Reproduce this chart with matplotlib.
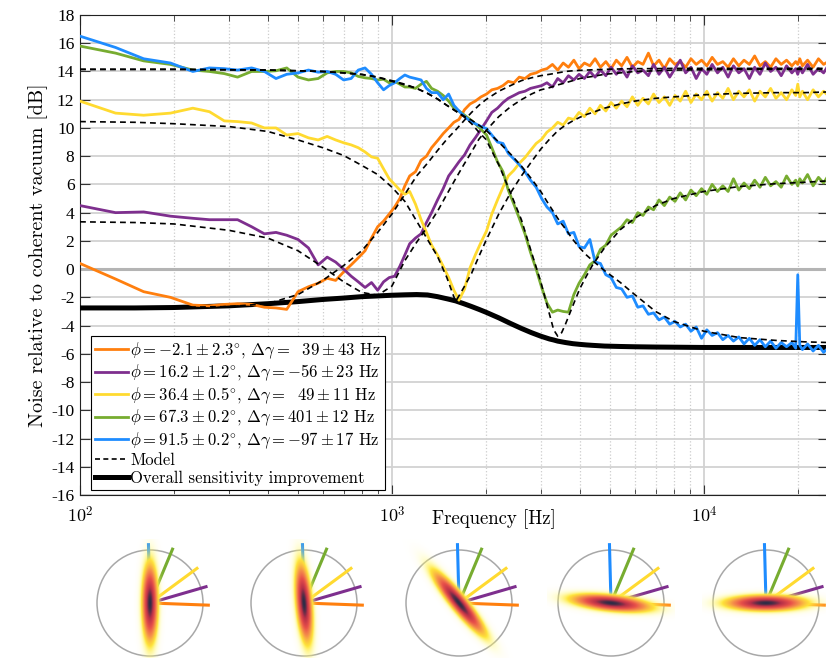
import matplotlib.pyplot as plt
import numpy as np
from matplotlib.colors import LinearSegmentedColormap
from matplotlib.lines import Line2D
from matplotlib.patches import Circle
from matplotlib.ticker import FixedLocator, FixedFormatter, NullFormatter, LogLocator

plt.rcParams['font.family'] = ['cmr10', 'DejaVu Serif']
plt.rcParams['mathtext.fontset'] = 'cm'
plt.rcParams['axes.formatter.use_mathtext'] = True
plt.rcParams['axes.unicode_minus'] = False

# measured spectra (decimated), frequency in Hz, noise in dB
freq = [100, 130, 160, 195, 230, 260, 290, 320, 355, 390,
        425, 460, 500, 540, 580, 620, 660, 700, 740, 780,
        820, 860, 900, 940, 980, 1020, 1060, 1100, 1140, 1190,
        1240, 1290, 1340, 1400, 1460, 1520, 1580, 1640, 1710, 1780,
        1850, 1930, 2010, 2090, 2180, 2270, 2360, 2460, 2560, 2670,
        2780, 2900, 3020, 3140, 3270, 3400, 3540, 3680, 3830, 3980,
        4140, 4310, 4480, 4660, 4850, 5040, 5240, 5450, 5670, 5900,
        6140, 6380, 6640, 6900, 7180, 7470, 7770, 8080, 8400, 8740,
        9090, 9450, 9830, 10220, 10630, 11060, 11500, 11960, 12440, 12940,
        13450, 13990, 14550, 15130, 15740, 16370, 17020, 17700, 18410, 19150,
        19700, 20000, 20300, 20700, 21500, 22400, 23300, 24200, 25000]

orange_db = [0.4, -0.7, -1.6, -2.0, -2.55, -2.6, -2.5, -2.45, -2.5, -2.7,
             -2.75, -2.85, -1.6, -1.25, -1.0, -0.65, -0.8, -0.2, 0.3, 0.8,
             1.3, 2.2, 3.0, 3.4, 3.9, 4.4, 5.0, 5.9, 6.6, 6.9,
             7.7, 8.0, 8.6, 9.1, 9.6, 10.0, 10.4, 10.6, 11.3, 11.7,
             11.9, 12.2, 12.4, 12.7, 12.8, 13.0, 13.3, 13.2, 13.6, 13.5,
             13.8, 13.9, 14.1, 14.2, 14.5, 14.1, 14.6, 14.3, 14.8, 14.2,
             14.6, 14.4, 14.9, 14.3, 14.7, 14.2, 14.8, 14.4, 15.0, 14.3,
             14.7, 14.5, 15.3, 14.4, 14.8, 14.2, 14.9, 14.5, 14.7, 14.3,
             14.9, 14.5, 14.8, 14.4, 15.0, 14.5, 14.7, 14.3, 14.9, 14.4,
             14.8, 14.5, 15.1, 14.4, 14.7, 14.3, 14.9, 14.5, 14.8, 14.4,
             14.7, 14.5, 14.9, 14.4, 14.8, 14.3, 14.9, 14.5, 14.7]

purple_db = [4.5, 4.0, 4.05, 3.75, 3.6, 3.5, 3.5, 3.5, 3.0, 2.5,
             2.6, 2.4, 2.1, 1.5, 0.3, 0.85, 0.5, 0.0, -0.5, -0.9,
             -1.3, -0.95, -1.5, -0.9, -0.6, -0.5, 0.2, 1.0, 1.8, 2.2,
             2.5, 3.3, 4.0, 4.9, 5.7, 6.6, 7.1, 7.6, 8.1, 8.8,
             9.3, 9.9, 10.5, 11.1, 11.4, 11.8, 12.1, 12.3, 12.5, 12.6,
             12.8, 12.9, 13.0, 13.2, 12.9, 13.5, 13.2, 13.7, 13.4, 13.8,
             13.5, 14.0, 13.6, 14.1, 13.7, 14.3, 13.8, 14.2, 13.6, 14.4,
             13.9, 14.1, 13.7, 14.5, 13.8, 14.3, 13.6, 14.2, 14.8, 13.9,
             14.3, 13.5, 14.2, 13.8, 14.5, 13.9, 14.3, 13.6, 14.4, 13.9,
             14.2, 13.5, 14.3, 13.8, 14.6, 14.0, 14.3, 13.7, 14.4, 13.9,
             14.2, 13.8, 14.3, 13.9, 14.5, 13.8, 14.2, 13.9, 14.4]

yellow_db = [11.9, 11.05, 10.9, 11.05, 11.4, 11.15, 10.5, 10.45, 10.35, 10.0,
             10.0, 9.5, 9.6, 9.3, 9.15, 9.4, 9.15, 8.95, 8.8, 8.6,
             8.3, 7.95, 7.85, 7.1, 6.4, 6.0, 5.6, 5.3, 5.5, 4.6,
             3.5, 2.6, 1.7, 1.0, 0.2, -0.6, -1.5, -2.2, -1.4, 0.1,
             1.0, 1.9, 2.7, 3.9, 4.9, 5.8, 6.6, 7.0, 7.5, 7.9,
             8.4, 8.9, 9.2, 9.7, 10.0, 10.4, 10.2, 10.7, 10.6, 11.1,
             10.8, 11.4, 11.0, 11.6, 11.2, 11.8, 11.4, 11.9, 11.5, 12.2,
             11.6, 12.1, 11.7, 12.4, 11.8, 12.2, 11.6, 12.3, 11.9, 12.6,
             11.8, 12.4, 12.0, 12.6, 11.9, 12.5, 12.1, 12.8, 12.0, 12.6,
             12.2, 12.7, 11.9, 12.6, 12.2, 12.8, 12.1, 12.5, 12.0, 12.7,
             12.3, 13.1, 12.2, 12.6, 12.0, 12.7, 12.2, 12.6, 12.3]

green_db = [15.8, 15.3, 14.75, 14.5, 14.1, 14.0, 13.85, 13.6, 14.0, 14.0,
            14.05, 14.25, 13.6, 13.4, 13.5, 13.9, 14.0, 14.0, 13.9, 13.65,
            13.55, 13.5, 13.4, 13.45, 13.2, 13.3, 13.1, 12.9, 12.9, 12.8,
            13.1, 13.3, 12.8, 12.6, 12.3, 11.9, 11.4, 11.2, 10.9, 10.6,
            10.3, 9.9, 9.5, 8.6, 7.6, 6.9, 5.6, 4.6, 3.6, 2.5,
            1.2, 0.0, -1.3, -2.4, -3.05, -2.9, -3.0, -3.05, -1.8, -1.0,
            -0.4, 0.3, 0.6, 1.4, 1.7, 2.4, 2.7, 3.0, 3.5, 3.3,
            4.0, 3.8, 4.4, 4.2, 4.9, 4.5, 5.1, 4.8, 5.4, 4.9,
            5.6, 5.2, 5.7, 5.3, 6.0, 5.5, 5.9, 5.5, 6.4, 5.6,
            6.1, 5.7, 6.3, 5.8, 6.5, 5.9, 6.2, 5.8, 6.6, 6.0,
            6.3, 5.9, 6.4, 6.1, 6.7, 5.9, 6.5, 6.1, 6.6]

blue_db = [16.5, 15.7, 14.9, 14.6, 14.0, 14.25, 14.2, 14.1, 14.25, 14.0,
           13.5, 13.8, 13.9, 14.1, 13.95, 14.0, 13.8, 13.4, 13.5, 14.1,
           14.25, 13.8, 13.2, 12.7, 13.0, 13.2, 13.5, 13.75, 13.6, 13.5,
           13.4, 12.8, 12.5, 12.5, 12.0, 12.4, 11.6, 11.2, 10.8, 10.5,
           10.3, 10.1, 9.95, 9.5, 9.0, 8.9, 8.2, 7.8, 7.4, 6.9,
           6.3, 5.8, 5.0, 4.4, 4.0, 3.2, 3.4, 2.5, 2.6, 1.6,
           1.5, 2.1, 0.5, 0.4, -0.4, -0.6, -1.3, -1.4, -2.0, -1.9,
           -2.7, -2.6, -3.2, -3.1, -3.6, -3.4, -3.9, -3.7, -4.1, -3.9,
           -4.4, -4.1, -4.9, -4.3, -4.7, -4.5, -5.0, -4.7, -5.1, -4.8,
           -5.3, -4.9, -5.4, -5.0, -5.5, -5.1, -5.6, -5.2, -5.5, -5.2,
           -5.6, -0.4, -5.4, -5.7, -5.3, -5.8, -5.4, -5.9, -5.6]

# model curves
model_freq = [100, 150, 200, 300, 400, 500, 600, 700, 800, 900,
              1000, 1100, 1200, 1300, 1400, 1500, 1600, 1700, 1800, 1900,
              2000, 2200, 2400, 2600, 2800, 3000, 3200, 3300, 3400, 3500,
              3600, 3800, 4000, 4200, 4400, 4800, 5400, 6000, 7000, 8000,
              10000, 13000, 17000, 21000, 25000]

orange_model = [-2.75, -2.75, -2.72, -2.65, -2.45, -1.8, -0.8, 0.25, 1.3, 2.6,
                3.9, 5.3, 6.6, 7.5, 8.4, 9.2, 9.85, 10.5, 11.1, 11.6,
                12.0, 12.6, 13.0, 13.35, 13.55, 13.7, 13.8, 13.85, 13.9, 13.95,
                14.0, 14.05, 14.08, 14.1, 14.12, 14.15, 14.18, 14.2, 14.2, 14.22,
                14.22, 14.22, 14.22, 14.22, 14.22]

purple_model = [3.35, 3.3, 3.2, 2.75, 2.2, 1.3, 0.15, -0.9, -1.65, -1.85,
                -1.2, 0.6, 1.9, 3.0, 4.1, 5.3, 6.4, 7.4, 8.3, 9.2,
                9.8, 10.8, 11.5, 12.0, 12.4, 12.7, 12.85, 12.95, 13.05, 13.12,
                13.2, 13.35, 13.5, 13.58, 13.65, 13.8, 13.9, 14.0, 14.05, 14.1,
                14.12, 14.15, 14.15, 14.15, 14.15]

yellow_model = [10.45, 10.4, 10.3, 10.1, 9.75, 9.15, 8.6, 8.05, 7.35, 6.7,
                5.8, 4.8, 3.4, 2.1, 0.9, -0.6, -2.3, -1.3, -0.3, 0.9,
                2.0, 3.9, 5.4, 6.6, 7.6, 8.5, 9.2, 9.5, 9.8, 10.0,
                10.2, 10.5, 10.75, 10.95, 11.1, 11.4, 11.7, 11.9, 12.1, 12.2,
                12.35, 12.45, 12.5, 12.5, 12.55]

green_model = [14.15, 14.15, 14.15, 14.12, 14.1, 14.05, 14.0, 13.9, 13.78, 13.6,
               13.3, 13.05, 12.8, 12.45, 12.05, 11.6, 11.2, 10.8, 10.3, 9.7,
               9.2, 7.4, 5.4, 3.5, 1.2, -0.9, -3.2, -4.3, -4.75, -4.5,
               -3.9, -2.6, -1.4, -0.5, 0.3, 1.5, 2.8, 3.6, 4.5, 5.0,
               5.5, 5.85, 6.05, 6.15, 6.25]

blue_model = [14.15, 14.15, 14.15, 14.12, 14.1, 14.05, 14.0, 13.9, 13.8, 13.6,
              13.35, 13.1, 12.8, 12.45, 12.05, 11.6, 11.2, 10.85, 10.55, 10.2,
              9.85, 9.0, 8.15, 7.3, 6.4, 5.5, 4.5, 4.05, 3.6, 3.2,
              2.85, 2.1, 1.5, 1.0, 0.6, -0.1, -0.95, -1.8, -3.0, -3.7,
              -4.4, -4.85, -5.05, -5.15, -5.2]

overall_db = [-2.75, -2.75, -2.72, -2.6, -2.45, -2.3, -2.15, -2.05, -1.95, -1.9,
              -1.85, -1.82, -1.8, -1.83, -1.95, -2.1, -2.25, -2.45, -2.65, -2.85,
              -3.05, -3.45, -3.85, -4.2, -4.5, -4.75, -4.95, -5.02, -5.1, -5.15,
              -5.2, -5.28, -5.33, -5.37, -5.4, -5.45, -5.48, -5.5, -5.52, -5.53,
              -5.55, -5.55, -5.55, -5.55, -5.55]

labels = [r'$\phi = -2.1 \pm 2.3^{\circ}$, $\Delta\gamma = \enspace\,39 \pm 43$ Hz',
          r'$\phi = 16.2 \pm 1.2^{\circ}$, $\Delta\gamma = -56 \pm 23$ Hz',
          r'$\phi = 36.4 \pm 0.5^{\circ}$, $\Delta\gamma = \enspace\,49 \pm 11$ Hz',
          r'$\phi = 67.3 \pm 0.2^{\circ}$, $\Delta\gamma = 401 \pm 12$ Hz',
          r'$\phi = 91.5 \pm 0.2^{\circ}$, $\Delta\gamma = -97 \pm 17$ Hz']
colors = ['#FF7F0E', '#7E2F8E', '#FFDA30', '#77AC30', '#1E8CFF']
phi_deg = [-2.1, 16.2, 36.4, 67.3, 91.5]

# Wigner sketches under the plot
squeeze_deg = [90, 95, 129, 174, 180]
sketch_x_px = [150, 304, 459, 611, 766]

fig = plt.figure(figsize=(8.26, 6.58), dpi=100)
W, H = 826, 658
ax = fig.add_axes([80 / W, (H - 495) / H, 748 / W, 480 / H])

series = [orange_db, purple_db, yellow_db, green_db, blue_db]
models = [orange_model, purple_model, yellow_model, green_model, blue_model]

ax.plot(model_freq, overall_db, color='black', lw=3.6, zorder=3)
for ys, c in zip(series, colors):
    ax.plot(freq, ys, color=c, lw=2.0, zorder=4)
for ym in models:
    ax.plot(model_freq, ym, color='black', lw=1.2, ls=(0, (3.5, 2.5)), zorder=5)

ax.set_xscale('log')
ax.set_xlim(100, 25000)
ax.set_ylim(-16, 18)
yt = list(range(-16, 19, 2))
ax.yaxis.set_major_locator(FixedLocator(yt))
ax.yaxis.set_major_formatter(FixedFormatter([str(v) for v in yt]))
ax.xaxis.set_major_locator(FixedLocator([100, 1000, 10000]))
ax.xaxis.set_major_formatter(FixedFormatter([r'$10^{2}$', r'$10^{3}$', r'$10^{4}$']))
ax.xaxis.set_minor_locator(LogLocator(base=10, subs=np.arange(2, 10)))
ax.xaxis.set_minor_formatter(NullFormatter())
for lab in ax.get_yticklabels():
    lab.set_fontfamily('Liberation Serif')
    lab.set_fontsize(12.5)
for lab in ax.get_xticklabels():
    lab.set_fontsize(13)

ax.grid(which='major', color='#d2d2d2', lw=1.3)
ax.grid(which='minor', axis='x', color='#cccccc', ls=':', lw=0.9)
ax.axhline(0, color='#b4b4b4', lw=2.2, zorder=1)
ax.set_axisbelow(True)
ax.tick_params(which='both', direction='in', top=True, right=True, color='#333333')
ax.tick_params(which='major', length=7, width=0.8, pad=4)
ax.tick_params(which='minor', length=4, width=0.6)
ax.tick_params(axis='x', which='major', pad=7)
for s in ax.spines.values():
    s.set_linewidth(0.8)
    s.set_color('#222222')

ax.set_xlabel('Frequency [Hz]', fontsize=13.5)
ax.xaxis.label.set_va('baseline')
ax.xaxis.set_label_coords(0.553, -0.060)
ax.set_ylabel('Noise relative to coherent vacuum [dB]', fontsize=14.5)
ax.yaxis.label.set_va('baseline')
ax.yaxis.set_label_coords(-0.049, 0.5)

handles = [Line2D([], [], color=c, lw=2.0) for c in colors]
handles.append(Line2D([], [], color='black', lw=1.2, ls=(0, (3, 2))))
handles.append(Line2D([], [], color='black', lw=3.6))
leg = ax.legend(handles, labels + ['Model', 'Overall sensitivity improvement'],
                loc='upper left', bbox_to_anchor=(0.0147, 0.331), borderaxespad=0,
                fontsize=12, handlelength=2.0, handletextpad=0.1, labelspacing=0.12,
                borderpad=0.25, fancybox=False, framealpha=1, edgecolor='black')
leg.get_frame().set_linewidth(0.8)
leg.set_zorder(10)

# Wigner function sketches
wig_cmap = LinearSegmentedColormap.from_list(
    'wig', [(0.0, '#ffff80'), (0.15, '#ffe838'), (0.35, '#f5904a'),
            (0.55, '#e8504a'), (0.8, '#b83048'), (1.0, '#2c2c46')])
g = np.linspace(-1.2, 1.2, 241)
xx, yy = np.meshgrid(g, g)
cy_px = 603
r_px = 53
for cx, ang in zip(sketch_x_px, squeeze_deg):
    side = 2.4 * r_px
    iax = fig.add_axes([(cx - side / 2) / W, (H - cy_px - side / 2) / H, side / W, side / H])
    iax.add_patch(Circle((0, 0), 1, fill=False, ec='#a8a8a8', lw=1.1))
    for p, c in zip(phi_deg, colors):
        a = np.deg2rad(p)
        iax.plot([0, 1.13 * np.cos(a)], [0, 1.13 * np.sin(a)], color=c, lw=2.2,
                 solid_capstyle='butt', zorder=2)
    a = np.deg2rad(ang)
    u = xx * np.cos(a) + yy * np.sin(a)
    v = -xx * np.sin(a) + yy * np.cos(a)
    dens = np.exp(-0.5 * (u / 0.43) ** 2 - 0.5 * (v / 0.085) ** 2)
    rgba = wig_cmap(dens)
    rgba[..., 3] = np.clip(dens * 6.0, 0, 1)
    iax.imshow(rgba, extent=(-1.2, 1.2, -1.2, 1.2), origin='lower', aspect='auto',
               interpolation='bilinear', zorder=3)
    iax.set_xlim(-1.2, 1.2)
    iax.set_ylim(-1.2, 1.2)
    iax.axis('off')

fig.savefig('out.png', dpi=100)
